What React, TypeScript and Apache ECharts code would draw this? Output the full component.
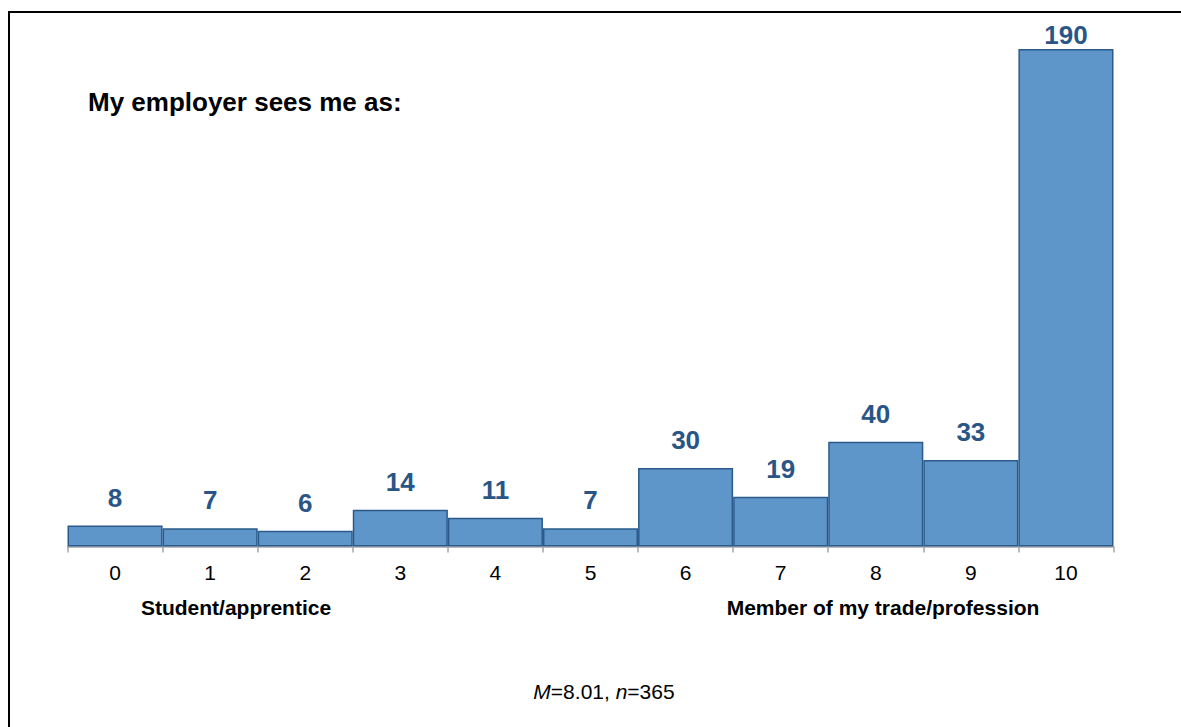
import React, { useEffect, useRef } from "react";
import * as echarts from "echarts";

const categories = ["0", "1", "2", "3", "4", "5", "6", "7", "8", "9", "10"];
const counts = [8, 7, 6, 14, 11, 7, 30, 19, 40, 33, 190];
const titleText = "My employer sees me as:";
const lowLabel = "Student/apprentice";
const highLabel = "Member of my trade/profession";
const meanValue = "8.01";
const nValue = "365";

const FONT = "'Liberation Sans', Arial, sans-serif";

export default function App() {
  const ref = useRef<HTMLDivElement>(null);
  useEffect(() => {
    if (!ref.current) return;
    const chart = echarts.init(ref.current, null, { renderer: "svg" });
    const labelDistance = (i: number) => (i === counts.length - 1 ? 1 : 15);
    chart.setOption({
      animation: false,
      textStyle: { fontFamily: FONT },
      grid: { left: 67.5, right: 67.5, top: 49, bottom: 180.5, containLabel: false },
      xAxis: {
        type: "category",
        data: categories,
        boundaryGap: true,
        axisLine: { show: true, lineStyle: { color: "#a6a6a6", width: 1.5 } },
        axisTick: { show: true, length: 6, lineStyle: { color: "#a6a6a6", width: 1.5 } },
        axisLabel: { color: "#000", fontSize: 21, margin: 15, fontFamily: FONT },
      },
      yAxis: {
        type: "value",
        min: 0,
        max: 190,
        show: false,
        splitLine: { show: false },
      },
      series: [
        {
          type: "bar",
          barCategoryGap: "0%",
          data: counts.map((v, i) => ({
            value: v,
            label: { distance: labelDistance(i) },
          })),
          itemStyle: { color: "#5f96c9", borderColor: "#2b5a8b", borderWidth: 1.5 },
          label: {
            show: true,
            position: "top",
            color: "#2a5587",
            fontWeight: "bold",
            fontSize: 26,
            fontFamily: FONT,
          },
        },
      ],
      graphic: [
        {
          type: "rect",
          shape: { x: 9, y: 12, width: 1300, height: 900 },
          style: { fill: "none", stroke: "#000", lineWidth: 2 },
          silent: true,
        },
        {
          type: "text",
          x: 88,
          y: 102,
          style: {
            text: titleText,
            fontFamily: FONT,
            fontSize: 26,
            fontWeight: "bold",
            fill: "#000",
            verticalAlign: "middle",
          },
        },
        {
          type: "text",
          x: 236,
          y: 607,
          style: {
            text: lowLabel,
            fontFamily: FONT,
            fontSize: 21,
            fontWeight: "bold",
            fill: "#000",
            align: "center",
            verticalAlign: "middle",
          },
        },
        {
          type: "text",
          x: 883,
          y: 607,
          style: {
            text: highLabel,
            fontFamily: FONT,
            fontSize: 21,
            fontWeight: "bold",
            fill: "#000",
            align: "center",
            verticalAlign: "middle",
          },
        },
        {
          type: "text",
          x: 604,
          y: 691,
          style: {
            text: `{i|M}{r|=${meanValue}, }{i|n}{r|=${nValue}}`,
            align: "center",
            verticalAlign: "middle",
            rich: {
              i: { fontFamily: FONT, fontSize: 21, fontStyle: "italic", fill: "#000" },
              r: { fontFamily: FONT, fontSize: 21, fill: "#000" },
            },
          },
        },
      ],
    });
    return () => chart.dispose();
  }, []);
  return (
    <div
      ref={ref}
      style={{ position: "fixed", left: 0, top: 0, width: 1181, height: 727, background: "#fff" }}
    />
  );
}
